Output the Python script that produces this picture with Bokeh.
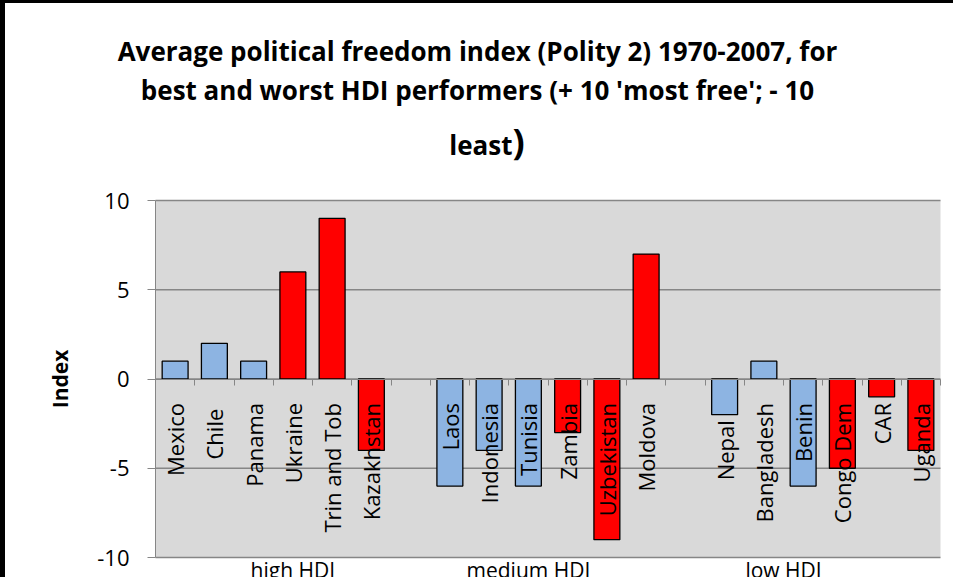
import math
from bokeh.plotting import figure
from bokeh.models import (Range1d, LinearAxis, FixedTicker, Label,
                          BoxAnnotation, ColumnDataSource)
from bokeh.core.properties import value
from bokeh.embed import file_html
from bokeh.resources import INLINE

# ---------------- data ----------------
title_lines = ["Average political freedom index (Polity 2) 1970-2007, for",
               "best and worst HDI performers (+ 10 'most free'; - 10",
               "least"]
title_close = ")"
y_label = "Index"

groups = ["high HDI", "medium HDI", "low HDI"]

high_countries = ["Mexico", "Chile\u00a0", "Panama", "Ukraine", "Trin and Tob", "Kazakhstan"]
high_values = [1, 2, 1, 6, 9, -4]
high_perf = ["best", "best", "best", "worst", "worst", "worst"]

medium_countries = ["Laos", "Indonesia", "Tunisia", "Zambia", "Uzbekistan", "Moldova"]
medium_values = [-6, -4, -6, -3, -9, 7]
medium_perf = ["best", "best", "best", "worst", "worst", "worst"]

low_countries = ["Nepal\u00a0\u00a0\u00a0", "Bangladesh", "Benin", "Congo Dem", "CAR", "Uganda"]
low_values = [-2, 1, -6, -5, -1, -4]
low_perf = ["best", "best", "best", "worst", "worst", "worst"]

y_ticks = [-10, -5, 0, 5, 10]
y_tick_labels = ["-10", "-5", "0", "5", "10"]

perf_colors = {"best": "#8DB4E2", "worst": "#FF0000"}

# ------------- category slots (one blank slot between groups) -------------
series = [(high_countries, high_values, high_perf),
          (medium_countries, medium_values, medium_perf),
          (low_countries, low_values, low_perf)]
xs, names, vals, cols = [], [], [], []
slot = 0
for gi, (c, v, pf) in enumerate(series):
    for name, val, perf in zip(c, v, pf):
        xs.append(slot)
        names.append(name)
        vals.append(val)
        cols.append(perf_colors[perf])
        slot += 1
    if gi < len(series) - 1:
        slot += 1
n_slots = slot
# slots each group label is centred over (as in the original multi-level axis)
group_spans = [(0, 6), (7, 11), (12, n_slots - 1)]
group_centers = [(a + b) / 2 for a, b in group_spans]

src = ColumnDataSource(dict(x=xs, name=names, top=vals, color=cols))

# ------------- layout (pixels) -------------
FONT = "Open Sans"
GRID = "#868686"
BL, BT = 5, 3                      # outer chart border (left / top)
W, H = 958 - BL, 580 - BT
PLOT_L, PLOT_R = 155 - BL, 940 - BL    # plot area, canvas px
PLOT_T, PLOT_B = 200 - BT, 557 - BT
Y_MIN, Y_MAX = y_ticks[0], y_ticks[-1]
X_MIN, X_MAX = -0.5, n_slots - 0.5
px_per_unit = (PLOT_B - PLOT_T) / (Y_MAX - Y_MIN)
slot_px = (PLOT_R - PLOT_L) / n_slots
# the frame covers the whole canvas so that the titles and the group labels
# can live inside it
y_top = Y_MAX + PLOT_T / px_per_unit
y_bottom = Y_MIN - (H - PLOT_B) / px_per_unit
x_left = X_MIN - PLOT_L / slot_px
x_right = X_MAX + (W - PLOT_R) / slot_px
SHIFT = 12                          # baseline correction for canvas-placed texts


def canvas_x(cx):
    return (cx - PLOT_L) / slot_px + X_MIN


p = figure(width=W, height=H,
           x_range=Range1d(x_left, x_right), y_range=Range1d(y_bottom, y_top),
           x_axis_location=None, y_axis_location=None,
           toolbar_location=None, output_backend="svg",
           min_border_left=0, min_border_right=0,
           min_border_top=0, min_border_bottom=0)
p.styles = {"border-left": f"{BL}px solid black",
            "border-top": f"{BT}px solid black"}
p.background_fill_color = "white"
p.border_fill_color = "white"
p.outline_line_color = None
p.xgrid.visible = False
p.ygrid.visible = False

# grey plot area
p.add_layout(BoxAnnotation(left=X_MIN, right=X_MAX, bottom=Y_MIN, top=Y_MAX,
                           fill_color="#D9D9D9", fill_alpha=1.0, line_color=None,
                           level="underlay"))
# horizontal gridlines across the plot area
p.segment(x0=X_MIN, x1=X_MAX, y0=y_ticks, y1=y_ticks,
          line_color=GRID, line_width=1.5)

# y axis on the left edge of the plot area
yaxis = LinearAxis(ticker=FixedTicker(ticks=y_ticks), bounds=(Y_MIN, Y_MAX),
                   fixed_location=X_MIN,
                   major_label_overrides=dict(zip(y_ticks, y_tick_labels)),
                   major_label_text_font=FONT, major_label_text_font_size="22px",
                   major_label_text_color="black", major_label_standoff=18,
                   major_tick_out=8, major_tick_in=0,
                   minor_tick_out=0, minor_tick_in=0,
                   axis_line_color=GRID, major_tick_line_color=GRID)
p.add_layout(yaxis, "left")

# category axis line drawn at zero, tick marks between categories (pointing down)
slot_edges = [X_MIN + i for i in range(n_slots + 1)]
zaxis = LinearAxis(ticker=FixedTicker(ticks=slot_edges), fixed_location=0,
                   bounds=(X_MIN, X_MAX),
                   major_label_overrides={e: "" for e in slot_edges},
                   major_label_standoff=0,
                   major_tick_out=6, major_tick_in=0,
                   minor_tick_out=0, minor_tick_in=0,
                   axis_line_color=GRID, major_tick_line_color=GRID)
p.add_layout(zaxis, "below")

# bars
p.vbar(x="x", top="top", bottom=0, width=0.66, source=src,
       fill_color="color", line_color="black", line_width=1.3)

# country labels next to the axis
p.text(x="x", y=0, text="name", source=src, angle=math.pi / 2,
       text_align="right", text_baseline="middle", y_offset=24,
       text_font=value(FONT), text_font_size="22px", text_color="black")

# group labels under the plot area (cut by the bottom edge, as in the original)
for g, gx in zip(groups, group_centers):
    p.add_layout(Label(x=gx, y=578 - BT - SHIFT, x_units="data", y_units="canvas",
                       text=g, text_align="center", text_baseline="alphabetic",
                       text_font=FONT, text_font_size="21px", text_color="black"))

# axis title
p.add_layout(Label(x=canvas_x(59 - BL), y=(Y_MIN + Y_MAX) / 2, x_units="data", y_units="data",
                   text=y_label, angle=math.pi / 2, text_align="center",
                   text_baseline="middle", text_font=FONT, text_font_style="bold",
                   text_font_size="21px", text_color="black"))

# chart title (three lines, the closing bracket larger)
title_cx = canvas_x(477 - BL)
title_base = [59 - BT - SHIFT, 98 - BT - SHIFT]
for line, base in zip(title_lines[:2], title_base):
    p.add_layout(Label(x=title_cx, y=base, x_units="data", y_units="canvas",
                       text=line, text_align="center", text_baseline="alphabetic",
                       text_font=FONT, text_font_style="bold",
                       text_font_size="26px", text_color="black"))
least_x = canvas_x(512 - BL)
p.add_layout(Label(x=least_x, y=153 - BT - SHIFT, x_units="data", y_units="canvas",
                   text=title_lines[2], text_align="right", text_baseline="alphabetic",
                   text_font=FONT, text_font_style="bold",
                   text_font_size="26px", text_color="black"))
p.add_layout(Label(x=least_x, y=150 - BT - SHIFT, x_units="data", y_units="canvas",
                   text=title_close, text_align="left", text_baseline="alphabetic",
                   text_font=FONT, text_font_style="bold",
                   text_font_size="36px", text_color="black"))

open("out.html", "w").write(file_html(p, INLINE))
